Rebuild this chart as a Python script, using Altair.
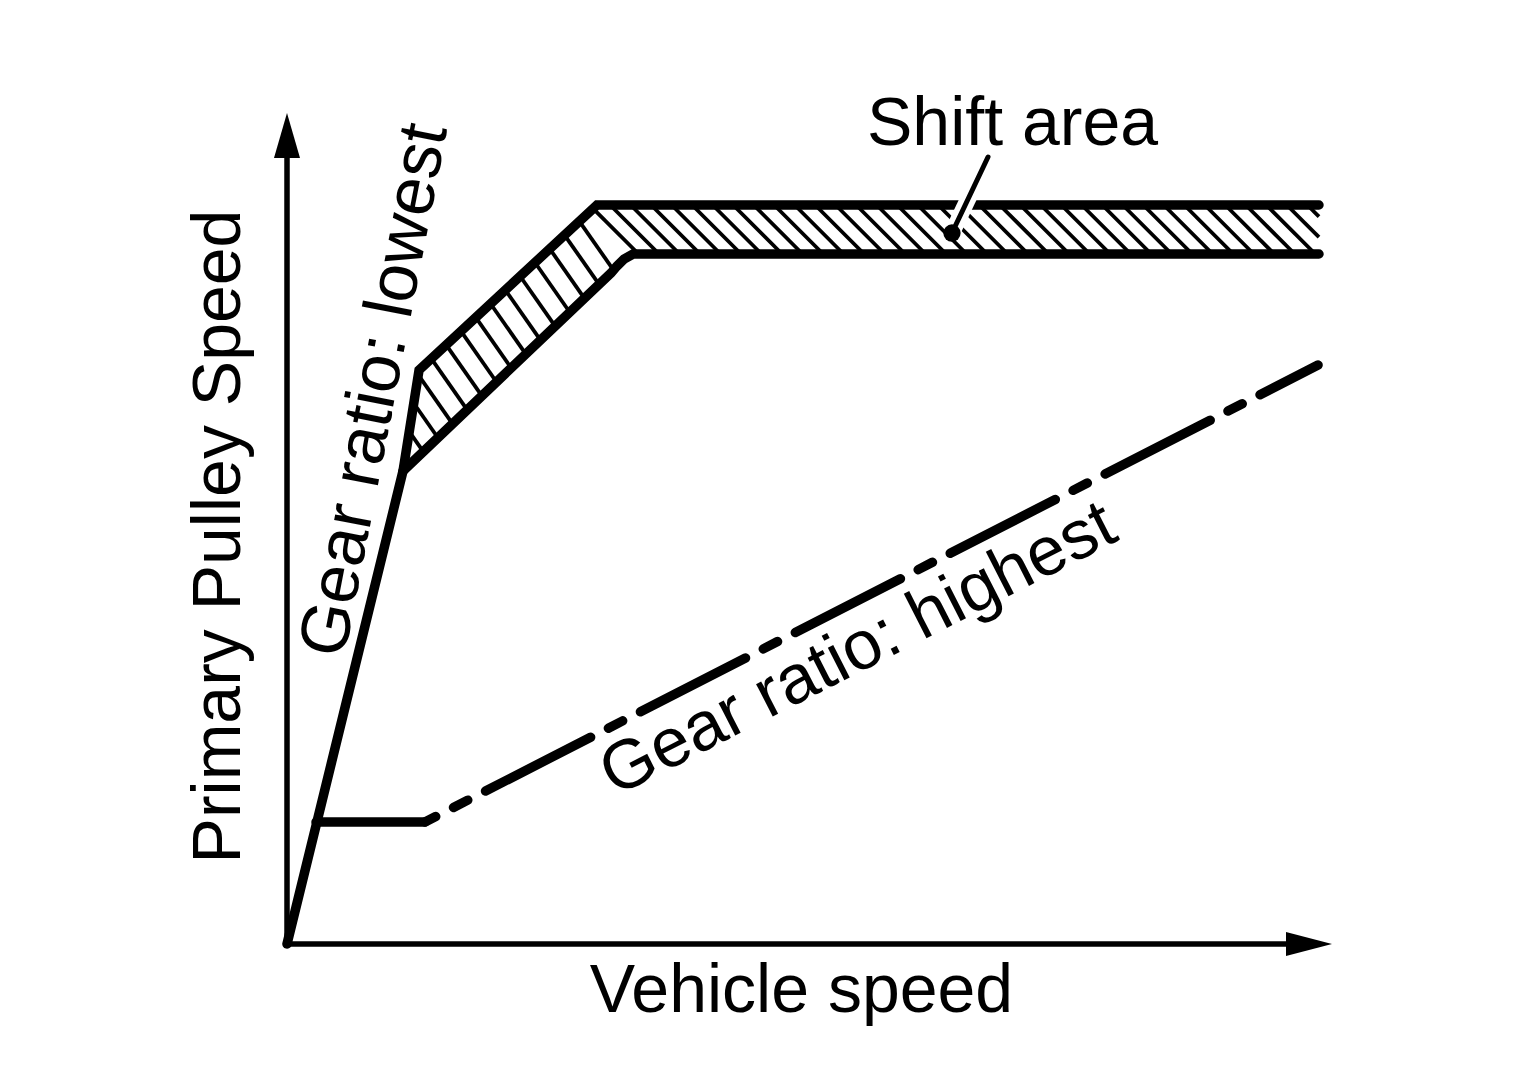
import altair as alt
import numpy as np
import pandas as pd

# ---------------- layout ----------------
W, H = 1048, 839            # plot area (px)
PAD = {"left": 279, "top": 97, "right": 150, "bottom": 120}
FONT = "Liberation Sans"
FS = 68

# ---------------- data (axis units 0..100) ----------------
# upper boundary: "Gear ratio: lowest" line, continuing as top of shift area
low_x = [0.0, 11.07, 12.60, 29.58, 98.47]
low_y = [0.0, 56.38, 68.41, 88.08, 88.08]
# lower boundary of the shift area
band_x = [11.07, 30.92, 31.49, 32.16, 33.02, 98.47]
band_y = [56.38, 79.98, 80.81, 81.64, 82.24, 82.24]
# "Gear ratio: highest": flat start, then dash-dot line
flat_x = [2.77, 13.17]
flat_y = [14.54, 14.54]
high_x = [13.17, 98.38]
high_y = [14.54, 69.01]
# leader of "Shift area" label
lead_x = [66.89, 63.45]
lead_y = [93.80, 84.74]
# axes
axis_end = {"x": 95.32, "y": 93.68}
arrow_pos = {"x": 97.52, "y": 96.36}

# text labels
labels = ["Shift area", "Gear ratio: lowest", "Gear ratio: highest",
          "Vehicle speed", "Primary Pulley Speed"]
label_x = [69.23, 8.40, 54.50, 49.09, -4.48]
label_y = [95.23, 66.03, 35.10, -8.10, 48.57]
label_angle = [0, 281, 333, 0, 270]
label_base = ["alphabetic", "middle", "middle", "alphabetic", "alphabetic"]
label_size = [68, 69, 69, 68, 68]

# ---------------- helpers ----------------
XS = alt.Scale(domain=[0, 100], nice=False, zero=False)
YS = alt.Scale(domain=[0, 100], nice=False, zero=False)
SX, SY = W / 100.0, H / 100.0


def line_df(xs, ys):
    return pd.DataFrame({"x": xs, "y": ys, "o": list(range(len(xs)))})


def enc_line(ch):
    return ch.encode(
        x=alt.X("x:Q", scale=XS, axis=None),
        y=alt.Y("y:Q", scale=YS, axis=None),
        order="o:Q",
    )


def to_px(xs, ys):
    return np.column_stack([np.array(xs) * SX, -np.array(ys) * SY])


def hatch(poly, ang, gap, keep, phase=0.0):
    a = np.radians(ang)
    d = np.array([np.cos(a), np.sin(a)])
    n = np.array([-np.sin(a), np.cos(a)])
    m = len(poly)
    pr = poly @ n
    segs = []
    c = np.floor(pr.min() / gap) * gap + phase
    while c < pr.max():
        pts = []
        for k in range(m):
            p, q = poly[k], poly[(k + 1) % m]
            s0, s1 = p @ n - c, q @ n - c
            if (s0 < 0) != (s1 < 0):
                t = s0 / (s0 - s1)
                pts.append(p + t * (q - p))
        pts.sort(key=lambda v: v @ d)
        for j in range(0, len(pts) - 1, 2):
            p0, p1 = pts[j], pts[j + 1]
            if keep(0.5 * (p0[0] + p1[0])):
                segs.append((p0, p1))
        c += gap
    return segs


poly = np.vstack([to_px(low_x[1:], low_y[1:]), to_px(band_x[::-1], band_y[::-1])])
split = (606 - 287)
segs = (hatch(poly, 55, 20.0, lambda mx: mx < split, 6)
        + hatch(poly, 45, 14.5, lambda mx: mx >= split, 3))
hdf = pd.DataFrame({
    "x": [s[0][0] / SX for s in segs], "y": [-s[0][1] / SY for s in segs],
    "x2": [s[1][0] / SX for s in segs], "y2": [-s[1][1] / SY for s in segs],
})

# ---------------- layers ----------------
hatch_layer = alt.Chart(hdf).mark_rule(color="black", strokeWidth=3.8).encode(
    x=alt.X("x:Q", scale=XS, axis=None), y=alt.Y("y:Q", scale=YS, axis=None),
    x2="x2:Q", y2="y2:Q")

thick = dict(color="black", strokeWidth=9.5, strokeCap="round", strokeJoin="miter")
low_line = enc_line(alt.Chart(line_df(low_x, low_y)).mark_line(**thick))
band_line = enc_line(alt.Chart(line_df(band_x, band_y)).mark_line(**thick))
flat_line = enc_line(alt.Chart(line_df(flat_x, flat_y)).mark_line(**thick))
high_line = enc_line(alt.Chart(line_df(high_x, high_y)).mark_line(
    **thick, strokeDash=[118, 20, 16, 20], strokeDashOffset=106))

lead_df = line_df(lead_x, lead_y)
halo = enc_line(alt.Chart(lead_df).mark_line(color="white", strokeWidth=16, strokeCap="butt"))
leader = enc_line(alt.Chart(lead_df).mark_line(color="black", strokeWidth=5, strokeCap="round"))
dot = alt.Chart(lead_df.iloc[[1]]).mark_point(
    shape="circle", size=300, filled=True, color="black", opacity=1).encode(
    x=alt.X("x:Q", scale=XS, axis=None), y=alt.Y("y:Q", scale=YS, axis=None))

ax_df = pd.DataFrame({"x": [0.0, 0.0], "y": [0.0, 0.0],
                      "x2": [axis_end["x"], 0.0], "y2": [0.0, axis_end["y"]]})
axes = alt.Chart(ax_df).mark_rule(color="black", strokeWidth=5.5, strokeCap="square").encode(
    x=alt.X("x:Q", scale=XS, axis=None), y=alt.Y("y:Q", scale=YS, axis=None),
    x2="x2:Q", y2="y2:Q")

arrow_up = alt.Chart(pd.DataFrame({"x": [0.0], "y": [arrow_pos["y"]]})).mark_point(
    shape="M0,-1L0.578,1L-0.578,1Z", size=2025, filled=True, color="black",
    opacity=1, strokeWidth=0).encode(
    x=alt.X("x:Q", scale=XS, axis=None), y=alt.Y("y:Q", scale=YS, axis=None))
arrow_right = alt.Chart(pd.DataFrame({"x": [arrow_pos["x"]], "y": [0.0]})).mark_point(
    shape="M1,0L-1,0.52L-1,-0.52Z", size=2116, filled=True, color="black",
    opacity=1, strokeWidth=0).encode(
    x=alt.X("x:Q", scale=XS, axis=None), y=alt.Y("y:Q", scale=YS, axis=None))

text_layers = []
for t, tx, ty, ang, bl, fs in zip(labels, label_x, label_y, label_angle, label_base, label_size):
    kw = dict(font=FONT, fontSize=fs, color="black", align="center", baseline=bl)
    if ang:
        kw["angle"] = ang
    text_layers.append(
        alt.Chart(pd.DataFrame({"x": [tx], "y": [ty], "t": [t]})).mark_text(**kw).encode(
            x=alt.X("x:Q", scale=XS, axis=None), y=alt.Y("y:Q", scale=YS, axis=None),
            text="t:N"))

chart = alt.layer(
    hatch_layer, low_line, band_line, flat_line, high_line,
    halo, leader, dot, axes, arrow_up, arrow_right, *text_layers
).properties(
    width=W, height=H, padding=PAD,
    autosize=alt.AutoSizeParams(type="none"),
    background="white",
).configure_view(stroke=None)

chart.save("out.html", embed_options={"renderer": "svg", "actions": False})
